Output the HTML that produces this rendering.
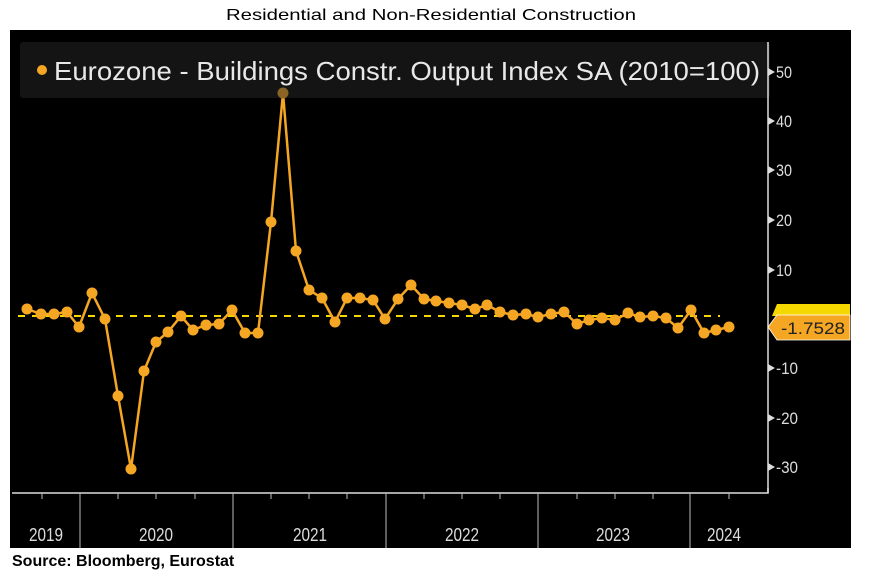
<!DOCTYPE html>
<html><head><meta charset="utf-8"><style>
body{margin:0;background:#fff;width:873px;height:573px;overflow:hidden;font-family:"Liberation Sans",sans-serif}
</style></head><body>
<svg width="873" height="573" xmlns="http://www.w3.org/2000/svg">
<rect width="873" height="573" fill="#fff"/>
<text x="431" y="20" text-anchor="middle" font-family="Liberation Sans" font-size="16" fill="#000" textLength="410" lengthAdjust="spacingAndGlyphs">Residential and Non-Residential Construction</text>
<rect x="10" y="30" width="841" height="518" fill="#000"/>
<rect x="20" y="42" width="750" height="56" rx="3" fill="#141414"/>
<circle cx="42" cy="70" r="5" fill="#f5a623"/>
<text x="54" y="80" font-family="Liberation Sans" font-size="26" fill="#e8e8e8" textLength="706" lengthAdjust="spacingAndGlyphs">Eurozone - Buildings Constr. Output Index SA (2010=100)</text>
<line x1="768" y1="42" x2="768" y2="493" stroke="#ddd" stroke-width="1.5"/>
<g fill="#ddd" font-family="Liberation Sans" font-size="17">
<text x="776" y="78" textLength="16" lengthAdjust="spacingAndGlyphs">50</text><text x="776" y="127" textLength="16" lengthAdjust="spacingAndGlyphs">40</text><text x="776" y="176" textLength="16" lengthAdjust="spacingAndGlyphs">30</text><text x="776" y="226" textLength="16" lengthAdjust="spacingAndGlyphs">20</text><text x="776" y="276" textLength="16" lengthAdjust="spacingAndGlyphs">10</text>
<text x="776" y="374" textLength="22" lengthAdjust="spacingAndGlyphs">-10</text><text x="776" y="424" textLength="22" lengthAdjust="spacingAndGlyphs">-20</text><text x="776" y="473" textLength="22" lengthAdjust="spacingAndGlyphs">-30</text>
</g>
<g fill="#ddd">
<polygon points="768,68 775,72 768,76"/><polygon points="768,117 775,121 768,125"/><polygon points="768,166 775,170 768,174"/><polygon points="768,216 775,220 768,224"/><polygon points="768,266 775,270 768,274"/><polygon points="768,364 775,368 768,372"/><polygon points="768,414 775,418 768,422"/><polygon points="768,463 775,467 768,471"/>
</g>
<polyline points="12,493 768,493 768,488" fill="none" stroke="#ddd" stroke-width="1.5"/>
<g stroke="#bbb" stroke-width="1">
<line x1="80" y1="493" x2="80" y2="548"/><line x1="233" y1="493" x2="233" y2="548"/><line x1="386" y1="493" x2="386" y2="548"/><line x1="538" y1="493" x2="538" y2="548"/><line x1="690" y1="493" x2="690" y2="548"/>
<line x1="42" y1="493" x2="42" y2="499"/><line x1="118" y1="493" x2="118" y2="499"/><line x1="156" y1="493" x2="156" y2="499"/><line x1="195" y1="493" x2="195" y2="499"/><line x1="271" y1="493" x2="271" y2="499"/><line x1="309" y1="493" x2="309" y2="499"/><line x1="347" y1="493" x2="347" y2="499"/><line x1="424" y1="493" x2="424" y2="499"/><line x1="462" y1="493" x2="462" y2="499"/><line x1="500" y1="493" x2="500" y2="499"/><line x1="577" y1="493" x2="577" y2="499"/><line x1="615" y1="493" x2="615" y2="499"/><line x1="653" y1="493" x2="653" y2="499"/><line x1="729" y1="493" x2="729" y2="499"/>
</g>
<g fill="#ddd" font-family="Liberation Sans" font-size="18" text-anchor="middle">
<text x="46" y="541" textLength="34" lengthAdjust="spacingAndGlyphs">2019</text><text x="156" y="541" textLength="34" lengthAdjust="spacingAndGlyphs">2020</text><text x="310" y="541" textLength="34" lengthAdjust="spacingAndGlyphs">2021</text><text x="462" y="541" textLength="34" lengthAdjust="spacingAndGlyphs">2022</text><text x="613" y="541" textLength="34" lengthAdjust="spacingAndGlyphs">2023</text><text x="724" y="541" textLength="34" lengthAdjust="spacingAndGlyphs">2024</text>
</g>
<line x1="18" y1="316" x2="720" y2="316" stroke="#f5d800" stroke-width="2" stroke-dasharray="7,7"/>
<polyline fill="none" stroke="#f5a623" stroke-width="2.5" points="27,309 41,314 54,314 67,312 79,327 92,293 105,319 118,396 131,469 144,371 156,342 168,332 181,316 193,330 206,325 219,324 232,310 245,333 258,333 271,222 283,93 296,251 309,290 322,298 335,322 347,298 360,298 373,300 385,319 398,299 411,285 424,299 436,301 449,303 462,305 475,309 487,305 500,312 513,315 526,314 538,317 551,314 564,312 577,324 589,320 602,318 615,320 628,313 640,317 653,316 666,318 678,328 691,310 704,333 716,330 729,327"/>
<g fill="#f5a623">
<circle cx="27" cy="309" r="5.5"/><circle cx="41" cy="314" r="5.5"/><circle cx="54" cy="314" r="5.5"/><circle cx="67" cy="312" r="5.5"/><circle cx="79" cy="327" r="5.5"/><circle cx="92" cy="293" r="5.5"/><circle cx="105" cy="319" r="5.5"/><circle cx="118" cy="396" r="5.5"/><circle cx="131" cy="469" r="5.5"/><circle cx="144" cy="371" r="5.5"/><circle cx="156" cy="342" r="5.5"/><circle cx="168" cy="332" r="5.5"/><circle cx="181" cy="316" r="5.5"/><circle cx="193" cy="330" r="5.5"/><circle cx="206" cy="325" r="5.5"/><circle cx="219" cy="324" r="5.5"/><circle cx="232" cy="310" r="5.5"/><circle cx="245" cy="333" r="5.5"/><circle cx="258" cy="333" r="5.5"/><circle cx="271" cy="222" r="5.5"/><circle cx="296" cy="251" r="5.5"/><circle cx="309" cy="290" r="5.5"/><circle cx="322" cy="298" r="5.5"/><circle cx="335" cy="322" r="5.5"/><circle cx="347" cy="298" r="5.5"/><circle cx="360" cy="298" r="5.5"/><circle cx="373" cy="300" r="5.5"/><circle cx="385" cy="319" r="5.5"/><circle cx="398" cy="299" r="5.5"/><circle cx="411" cy="285" r="5.5"/><circle cx="424" cy="299" r="5.5"/><circle cx="436" cy="301" r="5.5"/><circle cx="449" cy="303" r="5.5"/><circle cx="462" cy="305" r="5.5"/><circle cx="475" cy="309" r="5.5"/><circle cx="487" cy="305" r="5.5"/><circle cx="500" cy="312" r="5.5"/><circle cx="513" cy="315" r="5.5"/><circle cx="526" cy="314" r="5.5"/><circle cx="538" cy="317" r="5.5"/><circle cx="551" cy="314" r="5.5"/><circle cx="564" cy="312" r="5.5"/><circle cx="577" cy="324" r="5.5"/><circle cx="589" cy="320" r="5.5"/><circle cx="602" cy="318" r="5.5"/><circle cx="615" cy="320" r="5.5"/><circle cx="628" cy="313" r="5.5"/><circle cx="640" cy="317" r="5.5"/><circle cx="653" cy="316" r="5.5"/><circle cx="666" cy="318" r="5.5"/><circle cx="678" cy="328" r="5.5"/><circle cx="691" cy="310" r="5.5"/><circle cx="704" cy="333" r="5.5"/><circle cx="716" cy="330" r="5.5"/><circle cx="729" cy="327" r="5.5"/>
</g>
<circle cx="283" cy="93" r="5.5" fill="#8a6424"/>
<polygon points="777,304 850,304 850,316 772,316" fill="#f5d800"/>
<polygon points="768,327 777,315 850,315 850,340 777,340" fill="#f5a623" stroke="#fff" stroke-width="0.8"/>
<text x="781" y="334" font-family="Liberation Sans" font-size="17" fill="#222" textLength="64" lengthAdjust="spacingAndGlyphs">-1.7528</text>
<text x="12" y="566" font-family="Liberation Sans" font-size="16" font-weight="bold" fill="#000">Source: Bloomberg, Eurostat</text>
</svg>
</body></html>
